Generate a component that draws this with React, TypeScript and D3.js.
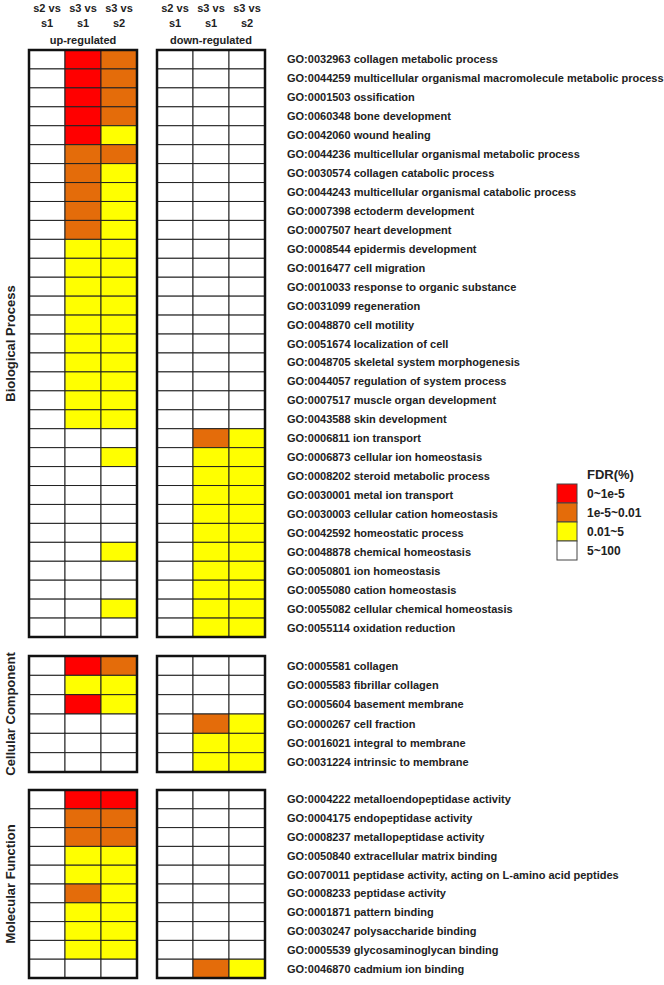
import { useEffect, useRef } from 'react';
import * as d3 from 'd3';

const comparisons = [['s2 vs', 's1'], ['s3 vs', 's1'], ['s3 vs', 's2']];
const directions = ['up-regulated', 'down-regulated'];

// FDR level: 0 = 5~100, 1 = 0.01~5, 2 = 1e-5~0.01, 3 = 0~1e-5
const levelLabels = ['0~1e-5', '1e-5~0.01', '0.01~5', '5~100'];
const levelColors = ['#ffffff', '#ffff00', '#e46c0a', '#ff0000'];

const bpTerms = [
	'GO:0032963 collagen metabolic process',
	'GO:0044259 multicellular organismal macromolecule metabolic process',
	'GO:0001503 ossification',
	'GO:0060348 bone development',
	'GO:0042060 wound healing',
	'GO:0044236 multicellular organismal metabolic process',
	'GO:0030574 collagen catabolic process',
	'GO:0044243 multicellular organismal catabolic process',
	'GO:0007398 ectoderm development',
	'GO:0007507 heart development',
	'GO:0008544 epidermis development',
	'GO:0016477 cell migration',
	'GO:0010033 response to organic substance',
	'GO:0031099 regeneration',
	'GO:0048870 cell motility',
	'GO:0051674 localization of cell',
	'GO:0048705 skeletal system morphogenesis',
	'GO:0044057 regulation of system process',
	'GO:0007517 muscle organ development',
	'GO:0043588 skin development',
	'GO:0006811 ion transport',
	'GO:0006873 cellular ion homeostasis',
	'GO:0008202 steroid metabolic process',
	'GO:0030001 metal ion transport',
	'GO:0030003 cellular cation homeostasis',
	'GO:0042592 homeostatic process',
	'GO:0048878 chemical homeostasis',
	'GO:0050801 ion homeostasis',
	'GO:0055080 cation homeostasis',
	'GO:0055082 cellular chemical homeostasis',
	'GO:0055114 oxidation reduction',
];
const bpUp = [
	'032', '032', '032', '032', '031', '022', '021', '021', '021', '021',
	'011', '011', '011', '011', '011', '011', '011', '011', '011', '011',
	'000', '001', '000', '000', '000', '000', '001', '000', '000', '001', '000',
];
const bpDown = [
	'000', '000', '000', '000', '000', '000', '000', '000', '000', '000',
	'000', '000', '000', '000', '000', '000', '000', '000', '000', '000',
	'021', '011', '011', '011', '011', '011', '011', '011', '011', '011', '011',
];

const ccTerms = [
	'GO:0005581 collagen',
	'GO:0005583 fibrillar collagen',
	'GO:0005604 basement membrane',
	'GO:0000267 cell fraction',
	'GO:0016021 integral to membrane',
	'GO:0031224 intrinsic to membrane',
];
const ccUp = ['032', '011', '031', '000', '000', '000'];
const ccDown = ['000', '000', '000', '021', '011', '011'];

const mfTerms = [
	'GO:0004222 metalloendopeptidase activity',
	'GO:0004175 endopeptidase activity',
	'GO:0008237 metallopeptidase activity',
	'GO:0050840 extracellular matrix binding',
	'GO:0070011 peptidase activity, acting on L-amino acid peptides',
	'GO:0008233 peptidase activity',
	'GO:0001871 pattern binding',
	'GO:0030247 polysaccharide binding',
	'GO:0005539 glycosaminoglycan binding',
	'GO:0046870 cadmium ion binding',
];
const mfUp = ['033', '022', '022', '011', '011', '021', '011', '011', '011', '000'];
const mfDown = ['000', '000', '000', '000', '000', '000', '000', '000', '000', '021'];

const groups = [
	{ name: 'Biological Process', terms: bpTerms, up: bpUp, down: bpDown, y0: 50, y1: 637 },
	{ name: 'Cellular Component', terms: ccTerms, up: ccUp, down: ccDown, y0: 656, y1: 772 },
	{ name: 'Molecular Function', terms: mfTerms, up: mfUp, down: mfDown, y0: 790, y1: 978 },
];

export default function App() {
	const ref = useRef<SVGSVGElement | null>(null);

	useEffect(() => {
		if (!ref.current) return;
		const svg = d3.select(ref.current);
		svg.selectAll('*').remove();

		const font = 'Liberation Sans, Arial, sans-serif';
		const panelX = d3.scaleOrdinal<string, number>().domain(directions).range([29, 157]);
		const colX = d3.scaleBand().domain(['0', '1', '2']).range([0, 108]);
		const color = d3.scaleOrdinal<number, string>().domain([0, 1, 2, 3]).range(levelColors);

		// column headers
		directions.forEach(dir => {
			const hg = svg.append('g').attr('transform', `translate(${panelX(dir)},0)`);
			comparisons.forEach((c, i) => {
				const cx = (colX(String(i)) as number) + colX.bandwidth() / 2;
				hg.append('text').attr('x', cx).attr('y', 12).text(c[0]);
				hg.append('text').attr('x', cx).attr('y', 27).text(c[1]);
			});
			hg.append('text').attr('x', 54).attr('y', 44).text(dir);
			hg.selectAll('text')
				.attr('text-anchor', 'middle')
				.attr('font-family', font)
				.attr('font-weight', 'bold')
				.attr('font-size', 11)
				.attr('fill', '#222');
		});

		groups.forEach(g => {
			const y = d3.scaleBand().domain(g.terms).range([g.y0, g.y1]);
			const gg = svg.append('g');

			[g.up, g.down].forEach((vals, p) => {
				const px = panelX(directions[p]);
				const pg = gg.append('g').attr('transform', `translate(${px},0)`);
				vals.forEach((row, r) => {
					row.split('').forEach((v, ci) => {
						pg.append('rect')
							.attr('x', colX(String(ci)) as number)
							.attr('y', y(g.terms[r]) as number)
							.attr('width', colX.bandwidth())
							.attr('height', y.bandwidth())
							.attr('fill', color(+v))
							.attr('stroke', '#222')
							.attr('stroke-width', 1);
					});
				});
				pg.append('rect')
					.attr('x', 0)
					.attr('y', g.y0)
					.attr('width', 108)
					.attr('height', g.y1 - g.y0)
					.attr('fill', 'none')
					.attr('stroke', '#111')
					.attr('stroke-width', 2.5);
			});

			gg.selectAll('text.term')
				.data(g.terms)
				.enter()
				.append('text')
				.attr('class', 'term')
				.attr('x', 287)
				.attr('y', d => (y(d) as number) + y.bandwidth() / 2 + 4)
				.attr('font-family', font)
				.attr('font-weight', 'bold')
				.attr('font-size', 11)
				.attr('fill', '#222')
				.text(d => d);

			const cy = (g.y0 + g.y1) / 2;
			gg.append('text')
				.attr('transform', `translate(15,${cy}) rotate(-90)`)
				.attr('text-anchor', 'middle')
				.attr('font-family', font)
				.attr('font-weight', 'bold')
				.attr('font-size', 13)
				.attr('fill', '#222')
				.text(g.name);
		});

		// legend
		const lg = svg.append('g').attr('transform', 'translate(557,484)');
		const ly = d3.scaleBand().domain(levelLabels).range([0, 76]);
		lg.append('text')
			.attr('x', 30)
			.attr('y', -5)
			.attr('font-family', font)
			.attr('font-weight', 'bold')
			.attr('font-size', 13)
			.attr('fill', '#222')
			.text('FDR(%)');
		levelLabels.forEach((l, i) => {
			lg.append('rect')
				.attr('x', 0)
				.attr('y', ly(l) as number)
				.attr('width', 20)
				.attr('height', ly.bandwidth())
				.attr('fill', color(3 - i))
				.attr('stroke', '#444')
				.attr('stroke-width', 1);
			lg.append('text')
				.attr('x', 30)
				.attr('y', (ly(l) as number) + ly.bandwidth() / 2 + 4)
				.attr('font-family', font)
				.attr('font-weight', 'bold')
				.attr('font-size', 12)
				.attr('fill', '#222')
				.text(l);
		});
	}, []);

	return (
		<svg
			ref={ref}
			width={664}
			height={985}
			style={{ position: 'absolute', left: 0, top: 0, background: '#fff' }}
		/>
	);
}
